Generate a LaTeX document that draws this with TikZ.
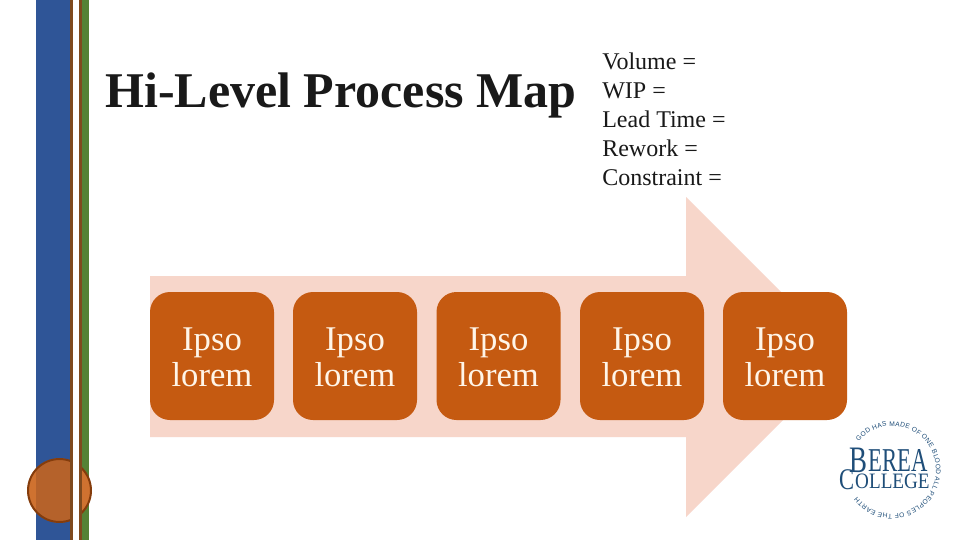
\documentclass[tikz,border=0pt]{standalone}
\usepackage{fontspec}
\setmainfont{Liberation Serif}
\setsansfont{Liberation Sans}
\usetikzlibrary{decorations.text}
\definecolor{stripeblue}{HTML}{2F5597}
\definecolor{stripegreen}{HTML}{548235}
\definecolor{stripebrown}{HTML}{7F4A1E}
\definecolor{boxorange}{HTML}{C55A11}
\definecolor{boxtext}{HTML}{FFF5E8}
\definecolor{arrowpink}{HTML}{F7D6CA}
\definecolor{dotfill}{HTML}{CF7230}
\definecolor{dotdark}{HTML}{B5622B}
\definecolor{dotedge}{HTML}{843C0C}
\definecolor{logoblue}{HTML}{1F4E79}
\tikzset{
  x=0.75pt,y=-0.75pt,
  stepbox/.style={draw=none,fill=boxorange,rounded corners=15pt,minimum width=93pt,minimum height=96pt,inner sep=0pt},
  steplabel/.style={inner sep=0pt,align=center,text=boxtext,font=\fontsize{26}{27}\selectfont},
  infoline/.style={anchor=north west,inner sep=0pt,align=left,font=\fontsize{18}{21.6}\selectfont,text=black!90},
  logotext/.style={inner sep=0pt,text=logoblue,anchor=base west},
}
\begin{document}
\begin{tikzpicture}
\path[use as bounding box,fill=white] (0,0) rectangle (960,540);
% left stripes
\fill[stripeblue] (36,0) rectangle (70.5,540);
\fill[stripegreen] (81,0) rectangle (89,540);
% circle
\fill[dotfill] (59.5,490.5) circle[radius=24pt];
\begin{scope}
  \clip (36,0) rectangle (70.5,540);
  \fill[dotdark] (59.5,490.5) circle[radius=24pt];
\end{scope}
\draw[dotedge,line width=1.5pt] (59.5,490.5) circle[radius=23.6pt];
% stripe on top
\fill[stripebrown] (70,0) rectangle (72.5,540);
\fill[white] (72.5,0) rectangle (79,540);
\fill[stripebrown] (79,0) rectangle (81.5,540);
% title
\node[anchor=base west,inner sep=0pt,font=\bfseries\fontsize{37.5}{40}\selectfont,text=black!90] (title) at (105,107) {Hi-Level Process Map};
\node[infoline] (info) at (602,53) {Volume =\\WIP =\\Lead Time =\\Rework =\\Constraint =};
% arrow
\fill[arrowpink] (150,276) -- (686,276) -- (686,197) -- (846,357) -- (686,517) -- (686,437) -- (150,437) -- cycle;
% boxes
\node[stepbox] (b1) at (212,356) {};
\node[stepbox] (b2) at (355,356) {};
\node[stepbox] (b3) at (498.5,356) {};
\node[stepbox] (b4) at (642,356) {};
\node[stepbox] (b5) at (785,356) {};
\node[steplabel] (t1) at ([yshift=-1pt]b1.center) {Ipso\\lorem};
\node[steplabel] (t2) at ([yshift=-1pt]b2.center) {Ipso\\lorem};
\node[steplabel] (t3) at ([yshift=-1pt]b3.center) {Ipso\\lorem};
\node[steplabel] (t4) at ([yshift=-1pt]b4.center) {Ipso\\lorem};
\node[steplabel] (t5) at ([yshift=-1pt]b5.center) {Ipso\\lorem};
% logo
\coordinate (logo) at (892,470);
\path[decorate,decoration={text along path,text align={fit to path},
  text={|\fontsize{5}{6}\selectfont\sffamily\color{logoblue}|GOD HAS MADE OF ONE BLOOD ALL PEOPLES OF THE EARTH}}]
  ([shift={(139:33pt)}]logo) arc[start angle=139,end angle=-142,radius=33pt];
\node[logotext,font=\fontsize{28}{28}\selectfont,xscale=0.72] (lb) at (849,472) {B};
\node[logotext,font=\fontsize{25}{25}\selectfont,xscale=0.68] (le) at (868,471) {EREA};
\node[logotext,font=\fontsize{22.5}{24}\selectfont,xscale=0.75] (lc) at (839,489) {C};
\node[logotext,font=\fontsize{16.5}{17}\selectfont,xscale=0.87] (lo) at (855,488) {OLLEGE};
\end{tikzpicture}
\end{document}
